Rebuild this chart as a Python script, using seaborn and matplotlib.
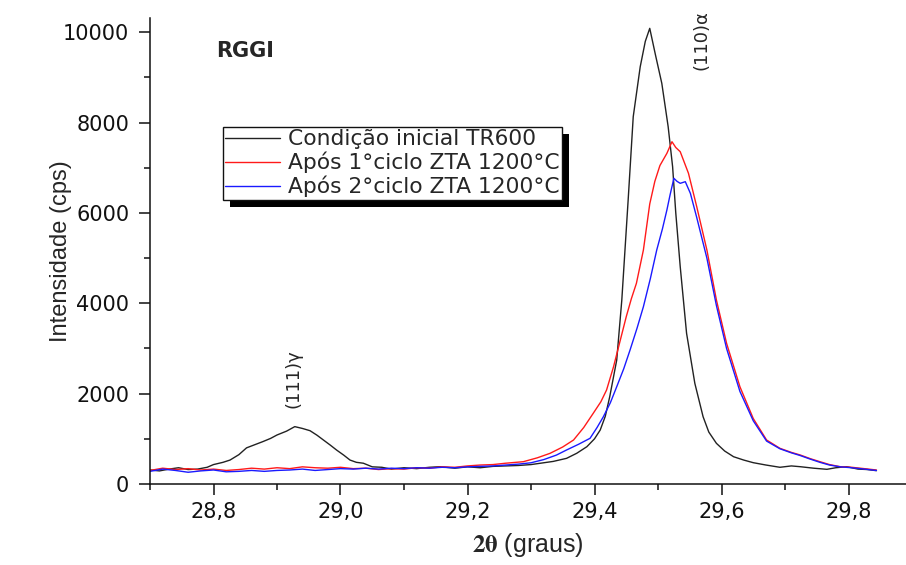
import numpy as np
import pandas as pd
import matplotlib
matplotlib.use("Agg")
import matplotlib.pyplot as plt
from matplotlib.patches import Rectangle
from matplotlib.transforms import IdentityTransform
from matplotlib.ticker import MultipleLocator, FuncFormatter
import seaborn as sns

# --- XRD scans (2theta in degrees, intensity in cps) ---
x_tr600 = [28.700, 28.715, 28.730, 28.745, 28.760, 28.775, 28.790, 28.800, 28.815, 28.826,
           28.840, 28.852, 28.865, 28.878, 28.890, 28.900, 28.915, 28.928, 28.940, 28.952,
           28.963, 28.973, 28.984, 28.994, 29.005, 29.015, 29.025, 29.036, 29.050, 29.065,
           29.080, 29.100, 29.120, 29.140, 29.157, 29.180, 29.200, 29.220, 29.240, 29.260,
           29.280, 29.300, 29.314, 29.335, 29.356, 29.372, 29.388, 29.400, 29.409, 29.417,
           29.424, 29.435, 29.443, 29.448, 29.453, 29.461, 29.472, 29.480, 29.487, 29.496,
           29.506, 29.516, 29.523, 29.528, 29.535, 29.545, 29.558, 29.571, 29.580, 29.592,
           29.605, 29.619, 29.635, 29.650, 29.670, 29.692, 29.710, 29.724, 29.745, 29.766,
           29.780, 29.797, 29.815, 29.830, 29.844]
y_tr600 = [310, 290, 330, 360, 320, 330, 370, 430, 480, 530,
           650, 800, 870, 940, 1010, 1085, 1170, 1270, 1230, 1180,
           1080, 975, 860, 750, 640, 530, 480, 460, 380, 370,
           330, 360, 340, 370, 383, 350, 380, 360, 390, 400,
           410, 430, 458, 500, 568, 680, 826, 1000, 1195, 1500,
           1933, 2745, 4073, 5180, 6287, 8132, 9238, 9800, 10088, 9500,
           8870, 7910, 7025, 6000, 4811, 3336, 2229, 1490, 1150, 900,
           730, 604, 530, 472, 420, 370, 400, 383, 350, 325,
           360, 383, 330, 320, 295]

x_ciclo1 = [28.700, 28.720, 28.740, 28.760, 28.780, 28.800, 28.820, 28.840, 28.860, 28.880,
            28.900, 28.920, 28.940, 28.960, 28.980, 29.000, 29.020, 29.040, 29.060, 29.080,
            29.100, 29.120, 29.140, 29.160, 29.180, 29.200, 29.220, 29.240, 29.260, 29.288,
            29.310, 29.330, 29.350, 29.367, 29.383, 29.398, 29.410, 29.419, 29.430, 29.440,
            29.450, 29.458, 29.466, 29.477, 29.487, 29.495, 29.503, 29.514, 29.522, 29.528,
            29.535, 29.548, 29.561, 29.577, 29.592, 29.608, 29.629, 29.650, 29.671, 29.692,
            29.710, 29.724, 29.740, 29.755, 29.770, 29.787, 29.805, 29.825, 29.844]
y_ciclo1 = [300, 350, 320, 340, 310, 330, 300, 320, 350, 330,
            360, 340, 380, 360, 350, 370, 340, 350, 320, 340,
            330, 360, 350, 380, 370, 400, 420, 430, 460, 494,
            580, 679, 820, 974, 1250, 1565, 1820, 2081, 2597, 3150,
            3704, 4100, 4443, 5180, 6200, 6700, 7050, 7321, 7578, 7450,
            7357, 6878, 6139, 5180, 4073, 3115, 2154, 1450, 974, 790,
            700, 642, 560, 494, 430, 383, 370, 340, 310]

x_ciclo2 = [28.700, 28.720, 28.740, 28.760, 28.780, 28.800, 28.820, 28.840, 28.860, 28.880,
            28.900, 28.920, 28.940, 28.960, 28.980, 29.000, 29.020, 29.040, 29.060, 29.080,
            29.100, 29.120, 29.140, 29.160, 29.180, 29.200, 29.220, 29.240, 29.260, 29.280,
            29.300, 29.320, 29.340, 29.356, 29.375, 29.393, 29.404, 29.414, 29.425, 29.435,
            29.446, 29.456, 29.467, 29.477, 29.488, 29.498, 29.507, 29.514, 29.519, 29.525,
            29.530, 29.535, 29.543, 29.551, 29.561, 29.577, 29.592, 29.608, 29.629, 29.650,
            29.671, 29.692, 29.710, 29.724, 29.740, 29.755, 29.770, 29.787, 29.805, 29.825,
            29.844]
y_ciclo2 = [280, 330, 300, 260, 290, 310, 270, 280, 300, 280,
            300, 310, 330, 300, 320, 340, 330, 350, 330, 350,
            340, 360, 350, 370, 360, 380, 390, 400, 420, 440,
            470, 540, 640, 753, 880, 1012, 1250, 1490, 1800, 2154,
            2550, 2967, 3450, 3925, 4550, 5180, 5650, 6066, 6400, 6768,
            6700, 6657, 6693, 6435, 5900, 5000, 3950, 3000, 2050, 1400,
            950, 780, 690, 630, 550, 480, 420, 380, 360, 330,
            300]

series_labels = ["Condição inicial TR600",
                 "Após 1°ciclo ZTA 1200°C",
                 "Após 2°ciclo ZTA 1200°C"]
series_colors = ["#222222", "#ff1a1a", "#1a1aff"]

df = pd.concat([
    pd.DataFrame({"2theta": x_tr600, "I": y_tr600, "amostra": series_labels[0]}),
    pd.DataFrame({"2theta": x_ciclo1, "I": y_ciclo1, "amostra": series_labels[1]}),
    pd.DataFrame({"2theta": x_ciclo2, "I": y_ciclo2, "amostra": series_labels[2]}),
], ignore_index=True)

sns.set_theme(style="ticks")
plt.rcParams["font.family"] = ["DejaVu Sans"]
plt.rcParams["mathtext.fontset"] = "stix"

W, H = 906, 565
AX_L, AX_B, AX_W, AX_H = 150, 81, 756, 466
fig = plt.figure(figsize=(W / 100, H / 100), dpi=100)
ax = fig.add_axes([AX_L / W, AX_B / H, AX_W / W, AX_H / H])

sns.lineplot(data=df, x="2theta", y="I", hue="amostra", hue_order=series_labels,
             palette=series_colors, linewidth=1.0, ax=ax, sort=False, legend=False)

ax.set_xlim(28.7, 28.7 + AX_W / 635)
ax.set_ylim(0, 10317)

ax.xaxis.set_major_locator(MultipleLocator(0.2))
ax.xaxis.set_minor_locator(MultipleLocator(0.1))
ax.yaxis.set_major_locator(MultipleLocator(2000))
ax.yaxis.set_minor_locator(MultipleLocator(1000))
ax.xaxis.set_major_formatter(FuncFormatter(lambda v, p: f"{v:.1f}".replace(".", ",")))

for s in ["top", "right"]:
    ax.spines[s].set_visible(False)
for s in ["left", "bottom"]:
    ax.spines[s].set_linewidth(1.1)
    ax.spines[s].set_color("#111111")

ax.tick_params(which="major", direction="out", length=8, width=1.1, color="#111111",
               labelsize=15, labelcolor="#111111")
ax.tick_params(axis="x", which="major", pad=5)
ax.tick_params(axis="y", which="major", pad=7)
ax.tick_params(which="minor", direction="out", length=4, width=1.1, color="#111111")

ax.set_xlabel(r"$\mathbf{2\theta}$ (graus)", fontsize=18, family=["Liberation Sans"])
ax.xaxis.set_label_coords(0.5, (484 - 531) / AX_H)
ax.set_ylabel("Intensidade (cps)", fontsize=17, family=["Liberation Sans"])
ax.yaxis.set_label_coords((72 - AX_L) / AX_W, 0.5)


def px(xp, yp):
    """figure pixel (from top-left) -> display coords"""
    return xp, H - yp


# peak labels and sample name
ax.text(*px(245, 51), "RGGI", transform=IdentityTransform(), fontsize=15,
        fontweight="bold", ha="center", va="center")
ax.text(*px(701, 40), "(110)α", transform=IdentityTransform(), fontsize=13,
        rotation=90, ha="center", va="center")
ax.text(*px(294, 408), "(111)γ", transform=IdentityTransform(), fontsize=13,
        rotation=90, ha="center", va="bottom")

# legend with a solid offset shadow
handles = [plt.Line2D([], [], color=c, lw=1.0) for c in series_colors]
leg = ax.legend(handles, series_labels, loc="upper left",
                bbox_to_anchor=(223 / W, 1 - 127 / H), bbox_transform=fig.transFigure,
                borderaxespad=0, fontsize=15.7, frameon=True, fancybox=False,
                framealpha=1.0, facecolor="white",
                handlelength=2.5, handletextpad=0.38, labelspacing=0.12,
                borderpad=0.1, edgecolor="#111111")
leg.get_frame().set_linewidth(1.0)
leg.set_zorder(6)

fig.canvas.draw()
bb = leg.get_window_extent(fig.canvas.get_renderer())
ax.add_patch(Rectangle((bb.x0 + 7, bb.y0 - 7), bb.width, bb.height,
                       transform=IdentityTransform(), facecolor="black",
                       edgecolor="none", zorder=5, clip_on=False))

fig.savefig("out.png", dpi=100)
